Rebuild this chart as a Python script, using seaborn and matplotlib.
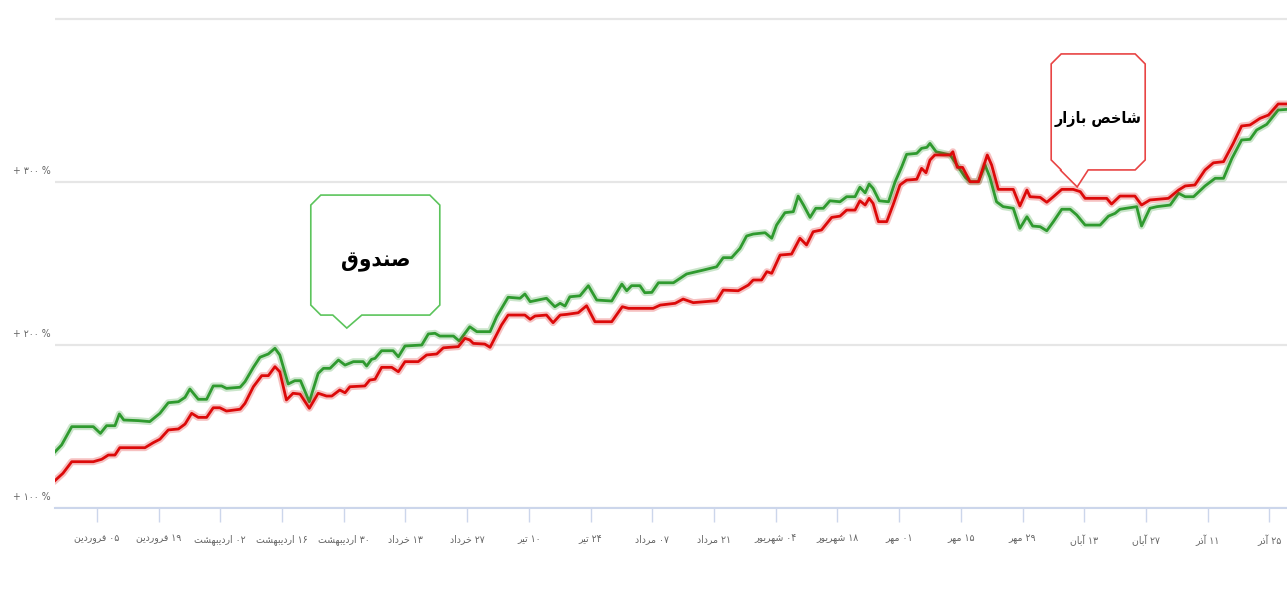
import numpy as np
import pandas as pd
import matplotlib
matplotlib.use('Agg')
import matplotlib.pyplot as plt
from matplotlib.patches import Polygon
from matplotlib.transforms import IdentityTransform, ScaledTranslation
import seaborn as sns

sns.set_theme(style='white')
plt.rcParams['font.family'] = ['DejaVu Sans']

# x = days counted from 05 Farvardin, y = cumulative return in %
fund_day = [-9.8, -8.0, -5.7, -0.8, 0.8, 2.2, 4.1, 5.1, 6.1, 9.4, 12.0, 14.3, 16.2, 18.5, 20.0,
            21.1, 23.0, 24.9, 26.4, 28.3, 29.4, 32.5, 33.6, 35.5, 37.0, 38.9, 40.4, 41.5, 43.4,
            44.9, 46.2, 48.2, 50.2, 51.4, 52.9, 54.8, 56.3, 58.2, 60.4, 61.2, 62.3, 63.1, 64.6,
            67.2, 68.4, 69.9, 73.7, 75.2, 76.7, 77.8, 80.9, 82.2, 84.6, 86.2, 89.2, 90.7, 93.3,
            96.0, 97.1, 98.3, 102.0, 103.9, 105.1, 106.2, 107.3, 109.6, 111.5, 113.4, 116.8,
            119.1, 120.2, 121.3, 123.2, 124.3, 125.9, 127.4, 130.8, 133.8, 137.6, 140.6, 142.1,
            144.0, 145.9, 147.4, 148.9, 151.6, 153.1, 154.2, 156.1, 158.0, 159.1, 160.3, 161.8,
            163.1, 164.8, 166.3, 168.6, 170.1, 172.0, 173.1, 174.3, 175.2, 176.1, 177.5, 179.6,
            181.1, 182.6, 183.7, 186.0, 187.1, 188.3, 189.0, 190.4, 193.6, 195.4, 197.0, 198.1,
            200.0, 201.5, 202.6, 204.1, 205.6, 207.9, 209.4, 211.0, 212.3, 214.0, 215.5, 217.0,
            218.9, 220.8, 222.3, 224.2, 227.6, 229.5, 231.0, 232.1, 235.9, 237.0, 238.9, 240.5,
            243.5, 245.4, 246.9, 248.8, 251.4, 253.7, 255.6, 257.5, 259.7, 261.6, 263.1, 265.4,
            268.0, 270.0]
fund_pct = [133.6, 138.7, 149.9, 149.9, 145.8, 150.5, 150.5, 157.7, 154.0, 153.6, 153.0, 158.1,
            164.6, 165.2, 167.9, 173.0, 166.7, 166.7, 174.9, 174.9, 173.4, 174.1, 177.5, 186.3,
            192.5, 194.5, 198.0, 193.9, 176.1, 178.1, 178.1, 165.2, 182.6, 185.7, 185.7, 190.8,
            187.7, 189.8, 189.8, 187.1, 191.2, 191.8, 196.5, 196.5, 192.8, 199.4, 200.0, 206.8,
            207.2, 205.5, 205.5, 202.5, 211.2, 208.2, 208.2, 217.4, 229.3, 228.7, 231.3, 226.6,
            228.7, 223.5, 225.6, 223.9, 229.6, 230.2, 236.4, 227.6, 227.0, 237.4, 233.3, 236.4,
            236.4, 232.1, 232.3, 238.2, 238.2, 243.6, 246.0, 248.0, 253.6, 253.6, 259.3, 266.9,
            268.1, 268.9, 265.5, 273.6, 281.2, 281.8, 291.4, 285.9, 278.3, 283.9, 283.9, 288.5,
            287.9, 291.0, 291.0, 296.8, 293.4, 298.8, 296.1, 288.5, 287.9, 300.2, 309.4, 317.0,
            317.6, 320.7, 321.3, 323.7, 318.6, 316.6, 309.4, 302.9, 300.2, 300.2, 310.4, 302.9,
            287.9, 284.9, 283.9, 271.6, 278.7, 273.0, 272.6, 270.1, 275.7, 283.3, 283.3, 279.8,
            273.6, 273.6, 279.1, 280.8, 283.3, 284.9, 273.0, 283.9, 284.9, 285.9, 293.1, 291.0,
            291.0, 297.6, 302.3, 302.3, 314.5, 325.8, 326.2, 331.9, 335.4, 344.2, 344.6]

index_day = [-9.8, -7.7, -5.7, -0.8, 1.1, 2.6, 4.1, 5.2, 10.9, 12.8, 14.3, 16.2, 18.5, 20.0,
             21.5, 23.0, 24.9, 26.4, 27.9, 29.4, 32.5, 33.6, 35.5, 37.4, 38.9, 40.4, 41.5, 43.0,
             44.5, 46.1, 48.2, 50.2, 52.1, 53.3, 55.1, 56.3, 57.4, 60.8, 61.9, 63.1, 64.6, 66.9,
             68.4, 69.9, 72.9, 74.8, 77.1, 78.6, 82.0, 83.5, 84.6, 85.4, 88.0, 89.2, 91.8, 93.3,
             97.1, 98.3, 99.4, 102.0, 103.5, 105.1, 106.6, 109.2, 111.1, 113.0, 116.8, 119.2,
             120.6, 126.2, 127.8, 131.2, 133.0, 135.3, 140.6, 142.1, 145.5, 147.8, 148.9, 150.8,
             152.0, 153.1, 155.0, 157.6, 159.5, 161.0, 162.5, 164.4, 166.7, 168.6, 170.1, 172.0,
             173.1, 174.3, 175.2, 176.1, 177.3, 179.2, 180.7, 182.2, 183.7, 186.0, 187.1, 188.1,
             189.0, 190.1, 193.6, 194.2, 195.2, 196.4, 198.1, 200.0, 202.0, 203.0, 204.5, 207.9,
             209.4, 211.0, 211.7, 214.0, 215.5, 217.0, 218.9, 221.5, 223.1, 224.2, 229.1, 230.2,
             232.1, 235.5, 237.0, 238.9, 243.1, 245.4, 246.9, 249.1, 251.4, 253.3, 255.6, 257.8,
             259.7, 261.6, 263.9, 265.8, 268.0, 270.0]
index_pct = [116.1, 121.3, 128.4, 128.4, 129.9, 132.5, 132.5, 137.0, 137.0, 140.1, 142.2, 147.9,
             148.5, 151.5, 158.1, 155.6, 155.6, 161.5, 161.5, 159.5, 160.6, 164.2, 174.4, 181.2,
             181.2, 186.7, 183.6, 166.3, 170.4, 169.9, 161.2, 170.4, 168.7, 168.7, 172.4, 170.7,
             174.4, 174.9, 178.5, 179.0, 186.3, 186.3, 183.6, 189.8, 189.8, 193.9, 194.5, 198.3,
             199.0, 204.1, 203.1, 201.0, 200.6, 198.6, 212.3, 218.4, 218.4, 215.8, 217.8, 218.4,
             213.7, 218.4, 218.8, 219.8, 224.1, 214.3, 214.3, 223.5, 222.5, 222.5, 224.5, 225.6,
             228.2, 226.0, 227.2, 233.7, 233.3, 236.8, 239.9, 239.9, 245.0, 244.0, 255.2, 255.8,
             265.5, 261.4, 269.5, 270.6, 278.3, 279.1, 282.8, 282.8, 288.5, 285.9, 290.0, 286.9,
             275.7, 275.7, 286.5, 298.2, 301.2, 301.7, 308.4, 305.7, 313.5, 316.6, 316.6, 318.6,
             309.0, 309.0, 300.2, 300.2, 316.6, 310.4, 295.5, 295.5, 285.3, 295.1, 291.0, 290.6,
             287.6, 291.0, 295.5, 295.5, 294.1, 290.0, 290.0, 286.5, 291.4, 291.4, 285.9, 289.0,
             290.0, 295.1, 297.6, 298.2, 307.4, 311.8, 312.5, 323.7, 334.4, 335.0, 339.1, 341.1,
             347.9, 347.9]

tick_days = list(range(0, 267, 14))
tick_dates = ['۰۵ فروردین', '۱۹ فروردین', '۰۲ اردیبهشت', '۱۶ اردیبهشت', '۳۰ اردیبهشت',
              '۱۳ خرداد', '۲۷ خرداد', '۱۰ تیر', '۲۴ تیر', '۰۷ مرداد', '۲۱ مرداد',
              '۰۴ شهریور', '۱۸ شهریور', '۰۱ مهر', '۱۵ مهر', '۲۹ مهر', '۱۳ آبان',
              '۲۷ آبان', '۱۱ آذر', '۲۵ آذر']
y_ticks = [100, 200, 300, 400]
y_labels = ['+ ۱۰۰ %', '+ ۲۰۰ %', '+ ۳۰۰ %', '']

fund_name = 'صندوق'
index_name = 'شاخص بازار'

# matplotlib has no arabic shaping, so pick presentation forms by hand
# (isolated, final, initial, medial)
FORMS = {
    'ا': ('\uFE8D', '\uFE8E', None, None),
    'آ': ('\uFE81', '\uFE82', None, None),
    'ب': ('\uFE8F', '\uFE90', '\uFE91', '\uFE92'),
    'ت': ('\uFE95', '\uFE96', '\uFE97', '\uFE98'),
    'خ': ('\uFEA5', '\uFEA6', '\uFEA7', '\uFEA8'),
    'د': ('\uFEA9', '\uFEAA', None, None),
    'ذ': ('\uFEAB', '\uFEAC', None, None),
    'ر': ('\uFEAD', '\uFEAE', None, None),
    'ز': ('\uFEAF', '\uFEB0', None, None),
    'ش': ('\uFEB5', '\uFEB6', '\uFEB7', '\uFEB8'),
    'ص': ('\uFEB9', '\uFEBA', '\uFEBB', '\uFEBC'),
    'ف': ('\uFED1', '\uFED2', '\uFED3', '\uFED4'),
    'ق': ('\uFED5', '\uFED6', '\uFED7', '\uFED8'),
    'م': ('\uFEE1', '\uFEE2', '\uFEE3', '\uFEE4'),
    'ن': ('\uFEE5', '\uFEE6', '\uFEE7', '\uFEE8'),
    'ه': ('\uFEE9', '\uFEEA', '\uFEEB', '\uFEEC'),
    'و': ('\uFEED', '\uFEEE', None, None),
    'ی': ('\uFEEF', '\uFEF0', '\uFEF3', '\uFEF4'),
}


def shape_word(word):
    out = []
    for i, ch in enumerate(word):
        if ch not in FORMS:
            out.append(ch)
            continue
        prev = word[i - 1] if i > 0 else None
        nxt = word[i + 1] if i < len(word) - 1 else None
        join_prev = prev in FORMS and FORMS[prev][2] is not None
        join_next = nxt in FORMS and FORMS[ch][2] is not None
        iso, fin, ini, med = FORMS[ch]
        if join_prev and join_next:
            out.append(med)
        elif join_prev:
            out.append(fin)
        elif join_next:
            out.append(ini)
        else:
            out.append(iso)
    return ''.join(out)


def fa(text):
    parts = []
    for tok in text.split(' '):
        if any(c in FORMS for c in tok):
            parts.append(shape_word(tok)[::-1])
        else:
            parts.append(tok)
    return ' '.join(parts[::-1])


def callout(ax, tip, box, base, color, text, size):
    # box = (left, right, bottom, top), base = (left, right); pixels from the tip
    l, r, b, t = box
    bl, br = base
    c = 10
    pts = [(0, 0), (br, b), (r - c, b), (r, b + c), (r, t - c), (r - c, t),
           (l + c, t), (l, t - c), (l, b + c), (l + c, b), (bl, b)]
    tx, ty = ax.transData.transform(tip)
    verts = [(tx + dx, ty + dy) for dx, dy in pts]
    ax.add_patch(Polygon(verts, closed=True, facecolor='white', edgecolor=color,
                         lw=1.2, transform=IdentityTransform(), clip_on=False, zorder=5))
    ax.text(tx + (l + r) / 2, ty + (b + t) / 2 - 7, fa(text), transform=IdentityTransform(),
            ha='center', va='center', fontsize=size, fontweight='bold',
            fontstretch='condensed', color='black', zorder=6)


green = '#2f9a2f'
red = '#dc0a0a'

fig = plt.figure(figsize=(12.87, 6.02), dpi=100)
ax = fig.add_axes([55 / 1287, 1 - 508 / 602, 1 - 55 / 1287, 508 / 602])

for xs, ys, col in [(fund_day, fund_pct, green), (index_day, index_pct, red)]:
    sns.lineplot(x=xs, y=ys, ax=ax, color=col, lw=5, alpha=0.25, sort=False, estimator=None)
    sns.lineplot(x=xs, y=ys, ax=ax, color=col, lw=2, sort=False, estimator=None)

ax.set_xlim(-9.5, 270)
ax.set_ylim(100, 411.7)

ax.set_yticks(y_ticks)
ax.set_yticklabels(y_labels)
ax.set_xticks(tick_days)
ax.set_xticklabels([fa(t) for t in tick_dates])

ax.grid(axis='y', color='#e6e6e6', lw=1.6)
ax.grid(axis='x', visible=False)
for s in ['left', 'top', 'right']:
    ax.spines[s].set_visible(False)
ax.spines['bottom'].set_color('#ccd6eb')
ax.spines['bottom'].set_linewidth(1.5)

ax.tick_params(axis='x', direction='out', length=10, width=1, color='#ccd6eb',
               labelcolor='#666666', labelsize=7.5, pad=9, bottom=True)
ax.tick_params(axis='y', length=0, labelcolor='#666666', labelsize=7.5, pad=30)
for lab in ax.get_xticklabels():
    lab.set_fontstretch('condensed')
for lab in ax.get_yticklabels():
    lab.set_horizontalalignment('left')
    lab.set_fontstretch('condensed')
    lab.set_transform(lab.get_transform() + ScaledTranslation(0, 9 / 72, fig.dpi_scale_trans))

ax.set_xlabel('')
ax.set_ylabel('')

callout(ax, (56.7, 210.4), (-36, 93, 13, 133), (-14, 15), '#5cc45c', fund_name, 16)
callout(ax, (222.4, 297.0), (-26, 68, 17, 133), (-17, 11), '#e84545', index_name, 11.5)

fig.savefig('out.png', dpi=100)
